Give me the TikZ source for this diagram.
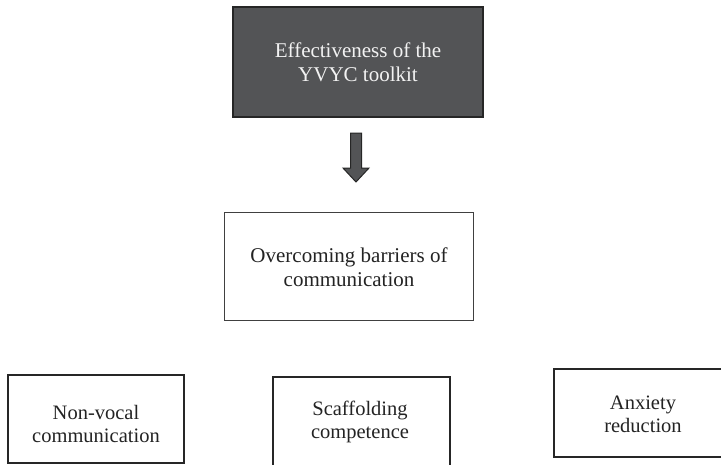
\documentclass[tikz,border=0pt]{standalone}
\usepackage{fontspec}
\setmainfont{Liberation Serif}
\usetikzlibrary{calc}
\definecolor{darkfill}{RGB}{83,84,86}
\definecolor{darkline}{RGB}{38,38,38}
\definecolor{txtdark}{RGB}{35,35,35}
\definecolor{txtlight}{RGB}{242,242,242}
\tikzset{
  topbox/.style={draw=darkline, line width=1.4pt, fill=darkfill, rectangle, inner sep=0pt},
  midbox/.style={draw=black!75, line width=0.9pt, rectangle, inner sep=0pt},
  lowbox/.style={draw=black!85, line width=1.3pt, rectangle, inner sep=0pt},
  txt/.style={font=\fontsize{21}{24}\selectfont, align=center, text=txtdark, inner sep=0pt},
  lighttxt/.style={txt, text=txtlight},
  blockarrow/.style={fill=darkfill, draw=darkline, line width=1pt, line join=miter}
}
\begin{document}
\begin{tikzpicture}[x=1pt,y=-1pt]
\useasboundingbox (0,0) rectangle (721,464);
% top box
\node[topbox, minimum width=250pt, minimum height=110pt] (top) at (358,62) {};
\node[lighttxt] (toptxt) at (358,62) {Effectiveness of the\\YVYC toolkit};
% block arrow
\coordinate (arr) at (356,133);
\draw[blockarrow] ($(arr)+(-5.5,0)$) -- ($(arr)+(5.5,0)$) -- ($(arr)+(5.5,35)$) -- ($(arr)+(13,35)$)
  -- ($(arr)+(0,49)$) -- ($(arr)+(-13,35)$) -- ($(arr)+(-5.5,35)$) -- cycle;
% middle box
\node[midbox, minimum width=249pt, minimum height=108pt] (mid) at (348.5,266) {};
\node[txt] (midtxt) at (349,267) {Overcoming barriers of\\communication};
% bottom boxes
\node[lowbox, minimum width=176pt, minimum height=88pt] (b1) at (96,419) {};
\node[txt, font=\fontsize{20.5}{23}\selectfont] (b1txt) at (96,424) {Non-vocal\\communication};
\node[lowbox, minimum width=177pt, minimum height=100pt] (b2) at (361.5,427) {};
\node[txt, font=\fontsize{20.5}{23}\selectfont] (b2txt) at (360,422) {Scaffolding\\competence};
\node[lowbox, minimum width=178pt, minimum height=88pt] (b3) at (643,413) {};
\node[txt, font=\fontsize{20.5}{23}\selectfont] (b3txt) at (643,414) {Anxiety\\reduction};
\end{tikzpicture}
\end{document}
